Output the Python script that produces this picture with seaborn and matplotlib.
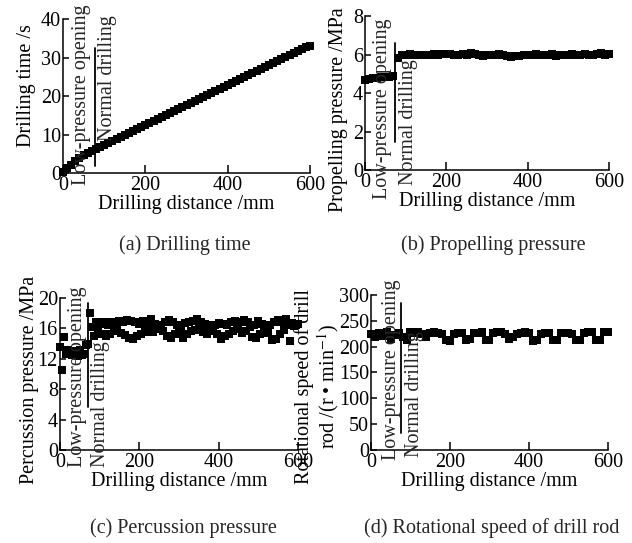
import numpy as np
import matplotlib
matplotlib.use("Agg")
import matplotlib.pyplot as plt
import seaborn as sns

# --- Data ---

# (a) drilling time, sampled every 10 mm
dist_a = np.arange(0, 601, 10)
time_a = [0.2, 1.2, 2.1, 3.0, 3.8, 4.6, 5.2, 5.7, 6.2, 6.8,
          7.3, 7.8, 8.3, 8.8, 9.3, 9.9, 10.4, 10.9, 11.4, 12.0,
          12.5, 13.0, 13.5, 14.0, 14.6, 15.1, 15.6, 16.1, 16.6, 17.2,
          17.7, 18.2, 18.7, 19.2, 19.7, 20.2, 20.8, 21.3, 21.8, 22.3,
          22.8, 23.3, 23.8, 24.4, 24.9, 25.4, 25.9, 26.5, 27.0, 27.5,
          28.0, 28.5, 29.1, 29.6, 30.1, 30.6, 31.1, 31.6, 32.1, 32.6,
          33.1]

# (b) propelling pressure, every 10 mm
dist_b = np.arange(0, 601, 10)
press_b = [4.70, 4.75, 4.78, 4.80, 4.82, 4.85, 4.85, 4.88, 5.80, 5.95,
           6.00, 6.02, 5.98, 6.00, 5.95, 5.98, 6.00, 6.02, 6.00, 6.03,
           6.05, 6.02, 6.00, 5.98, 6.02, 6.00, 6.08, 6.02, 5.95, 5.90,
           5.95, 5.98, 6.00, 6.02, 5.95, 5.92, 5.88, 5.90, 5.92, 5.95,
           5.98, 6.00, 6.02, 6.00, 5.98, 6.00, 6.02, 5.92, 5.95, 5.98,
           6.00, 6.02, 5.98, 6.00, 6.05, 6.00, 5.98, 6.02, 6.08, 6.00,
           6.05]

# (c) percussion pressure, every 5 mm
dist_c = np.arange(0, 601, 5)
press_c = [13.5, 10.5, 14.9, 12.6, 13.2, 12.8, 12.5, 13.0, 12.7, 12.4,
           13.1, 12.5, 12.6, 13.8, 14.0, 18.0, 16.2, 15.0, 16.8, 15.8,
           16.6, 15.2, 16.9, 15.0, 16.5, 15.3, 16.8, 15.6, 16.4, 15.9,
           17.0, 15.4, 16.9, 15.1, 17.1, 14.8, 17.0, 14.6, 16.9, 15.0,
           16.6, 15.2, 17.0, 15.5, 16.3, 15.8, 17.2, 15.5, 16.6, 15.9,
           16.0, 16.4, 15.6, 16.9, 15.0, 17.1, 14.8, 16.8, 15.2, 16.5,
           15.5, 16.2, 14.7, 16.7, 15.3, 16.9, 15.6, 17.0, 15.8, 17.2,
           16.0, 16.8, 15.5, 16.6, 15.3, 16.4, 15.7, 16.1, 16.5, 15.2,
           16.7, 14.6, 16.6, 15.0, 16.4, 15.3, 16.9, 15.6, 17.0, 15.9,
           16.2, 16.8, 15.4, 17.1, 15.7, 16.8, 16.2, 14.9, 16.5, 14.7,
           17.0, 15.2, 16.6, 15.6, 16.0, 15.4, 16.5, 14.5, 16.9, 14.6,
           17.1, 15.2, 16.8, 15.8, 17.2, 16.4, 14.4, 16.7, 16.3, 16.5,
           16.6]

# (d) rotational speed of drill rod, every 10 mm
dist_d = np.arange(0, 601, 10)
speed_d = [224, 218, 226, 220, 228, 214, 222, 226, 218, 213,
           228, 226, 229, 224, 218, 226, 229, 227, 225, 212,
           210, 224, 226, 227, 213, 214, 226, 227, 229, 213,
           213, 226, 228, 229, 225, 214, 218, 224, 227, 229,
           226, 211, 213, 225, 227, 226, 212, 213, 226, 227,
           227, 225, 213, 213, 226, 228, 228, 213, 213, 228,
           229]

# boundary between low-pressure opening and normal drilling (mm)
divider = {"a": 78, "b": 74, "c": 70, "d": 76}

# --- Style ---
sns.set_theme(style="ticks")
plt.rcParams["font.family"] = ["Liberation Serif", "DejaVu Serif"]
plt.rcParams["mathtext.fontset"] = "stix"
plt.rcParams["font.size"] = 14.5
plt.rcParams["axes.labelsize"] = 14.5
plt.rcParams["xtick.labelsize"] = 14.5
plt.rcParams["ytick.labelsize"] = 14.5

fig = plt.figure(figsize=(6.32, 5.43), dpi=100)

panels = [
    dict(key="a", x=dist_a, y=time_a, rect=[0.0997, 0.6814, 0.391, 0.2836],
         ylim=(0, 40), yticks=[0, 10, 20, 30, 40], ylabel="Drilling time /s",
         lab_xy=(-0.146, 0.565),
         cap="(a) Drilling time", cap_xy=(0.293, 0.549),
         span=(0.045, 0.81), low=(46, -0.078), norm=(109, 0.21)),
    dict(key="b", x=dist_b, y=press_b, rect=[0.5775, 0.6869, 0.386, 0.2836],
         ylim=(0, 8), yticks=[0, 2, 4, 6, 8], ylabel="Propelling pressure /MPa",
         lab_xy=(-0.107, 0.39),
         cap="(b) Propelling pressure", cap_xy=(0.78, 0.549),
         span=(0.18, 0.825), low=(44, -0.19), norm=(106, -0.097)),
    dict(key="c", x=dist_c, y=press_c, rect=[0.0949, 0.1713, 0.3766, 0.2799],
         ylim=(0, 20), yticks=[0, 4, 8, 12, 16, 20],
         ylabel="Percussion pressure /MPa", lab_xy=(-0.126, 0.46),
         cap="(c) Percussion pressure", cap_xy=(0.29, 0.028),
         span=(0.28, 0.97), low=(43, -0.11), norm=(103, -0.11)),
    dict(key="d", x=dist_d, y=speed_d, rect=[0.587, 0.1713, 0.375, 0.2855],
         ylim=(0, 300), yticks=[0, 50, 100, 150, 200, 250, 300],
         ylabel="Rotational speed of drill\nrod /(r • min$^{-1}$)",
         lab_xy=(-0.224, 0.41),
         cap="(d) Rotational speed of drill rod", cap_xy=(0.778, 0.028),
         span=(0.11, 0.95), low=(51, -0.065), norm=(109, -0.045)),
]

for p in panels:
    ax = fig.add_axes(p["rect"])
    sns.scatterplot(x=p["x"], y=p["y"], ax=ax, marker="s", color="black",
                    s=40, linewidth=0, clip_on=False, zorder=3)
    ax.set_xlim(0, 600)
    ax.set_ylim(*p["ylim"])
    ax.set_xticks([0, 200, 400, 600])
    ax.set_yticks(p["yticks"])
    sns.despine(ax=ax)
    for side in ["left", "bottom"]:
        ax.spines[side].set_linewidth(1.1)
        ax.spines[side].set_color("black")
    ax.tick_params(axis="x", direction="in", length=6, width=1.1, pad=2,
                   colors="black")
    ax.tick_params(axis="y", direction="in", length=4, width=1.1, pad=1.5,
                   colors="black")
    ax.set_xlabel("Drilling distance /mm", labelpad=0, color="black")
    ax.set_ylabel(p["ylabel"], color="black", linespacing=1.05)
    ax.yaxis.label.set_verticalalignment("center")
    ax.yaxis.set_label_coords(*p["lab_xy"])

    # stage boundary and stage names
    trans = ax.get_xaxis_transform()
    ax.plot([divider[p["key"]]] * 2, p["span"], color="black", lw=1.3,
            transform=trans, clip_on=False)
    ax.text(p["low"][0], p["low"][1], "Low-pressure opening", rotation=90,
            ha="center", va="bottom", transform=trans, fontsize=14.5)
    ax.text(p["norm"][0], p["norm"][1], "Normal drilling", rotation=90,
            ha="center", va="bottom", transform=trans, fontsize=14.5)

    fig.text(p["cap_xy"][0], p["cap_xy"][1], p["cap"], ha="center",
             va="center", fontsize=14.5)

fig.savefig("out.png", dpi=100)
